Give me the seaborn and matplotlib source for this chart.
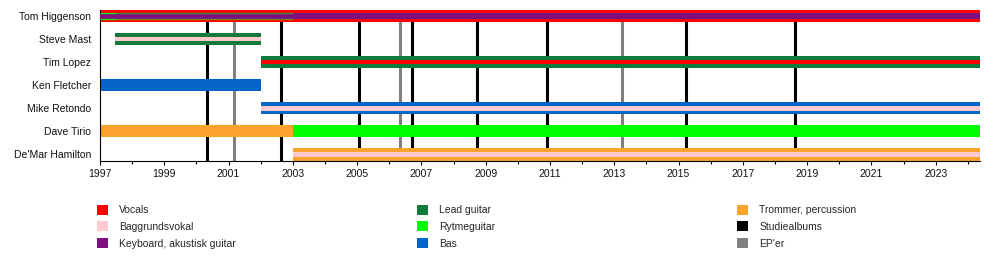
import matplotlib
matplotlib.use("Agg")
import matplotlib.pyplot as plt
from matplotlib.patches import Patch
import seaborn as sns

# ---------------- data ----------------
members = ["Tom Higgenson", "Steve Mast", "Tim Lopez", "Ken Fletcher",
           "Mike Retondo", "Dave Tirio", "De'Mar Hamilton"]

roles = ["Vocals", "Baggrundsvokal", "Keyboard, akustisk guitar",
         "Lead guitar", "Rytmeguitar", "Bas", "Trommer, percussion"]
role_colors = ["#ff0000", "#ffc9cf", "#7f0f80", "#127a3b", "#00ff00",
               "#0564c8", "#fba32c"]

studio_albums = [2000.33, 2002.62, 2005.05, 2006.70, 2008.72, 2010.92,
                 2015.24, 2018.62]
eps = [2001.17, 2006.33, 2013.25]

start_year = 1997
end_date = 2024.38

# main (full-height) bars
main_member = ["Tom Higgenson", "Steve Mast", "Tim Lopez", "Ken Fletcher",
               "Mike Retondo", "Dave Tirio", "Dave Tirio", "De'Mar Hamilton"]
main_role = ["Vocals", "Lead guitar", "Lead guitar", "Bas",
             "Bas", "Trommer, percussion", "Rytmeguitar", "Trommer, percussion"]
main_start = [1997.0, 1997.47, 2002.0, 1997.0, 2002.0, 1997.0, 2003.0, 2003.0]
main_end = [end_date, 2002.0, end_date, 2002.0, end_date, 2003.0, end_date, end_date]

# secondary (middle stripe) bars
stripe_member = ["Tom Higgenson", "Steve Mast", "Tim Lopez", "Mike Retondo",
                 "De'Mar Hamilton"]
stripe_role = ["Keyboard, akustisk guitar", "Baggrundsvokal", "Vocals",
               "Baggrundsvokal", "Baggrundsvokal"]
stripe_start = [1997.0, 1997.47, 2002.0, 2002.0, 2003.0]
stripe_end = [end_date, 2002.0, end_date, end_date, end_date]

# thin lines
thin_member = ["Tom Higgenson", "Tom Higgenson"]
thin_role = ["Rytmeguitar", "Rytmeguitar"]
thin_start = [1997.0, 1997.5]
thin_end = [1997.5, 2003.0]
thin_alpha = [0.9, 0.55]

# ---------------- plot ----------------
sns.set_theme(style="ticks")
plt.rcParams["font.family"] = ["Liberation Sans", "DejaVu Sans"]

color_of = dict(zip(roles, role_colors))
ypos = {m: i for i, m in enumerate(members)}

fig = plt.figure(figsize=(10, 2.6), dpi=100)
ax = fig.add_axes([0.100, 1 - 160.5 / 260, 0.880, (160.5 - 10) / 260])

for x in studio_albums:
    ax.axvline(x, color="black", lw=2.2, zorder=1)
for x in eps:
    ax.axvline(x, color="#808080", lw=2.2, zorder=1)

ax.barh([ypos[m] for m in main_member],
        [e - s for s, e in zip(main_start, main_end)],
        left=main_start, height=0.52,
        color=[color_of[r] for r in main_role], lw=0, zorder=2)

stripe_h = [0.23 if r == "Keyboard, akustisk guitar" else 0.19 for r in stripe_role]
ax.barh([ypos[m] for m in stripe_member],
        [e - s for s, e in zip(stripe_start, stripe_end)],
        left=stripe_start, height=stripe_h,
        color=[color_of[r] for r in stripe_role], lw=0, zorder=3)

for m, r, s, e, a in zip(thin_member, thin_role, thin_start, thin_end, thin_alpha):
    for off in (-0.12, 0.12):
        ax.hlines(ypos[m] + off, s, e, color=color_of[r], lw=1.0,
                  alpha=a, zorder=4)

ax.set_xlim(start_year, end_date)
ax.set_ylim(len(members) - 1 + 0.26, -0.26)
ax.set_yticks(range(len(members)))
ax.set_yticklabels(members)
ax.set_xticks(range(1997, 2024, 2))
ax.set_xticks(range(1997, 2025), minor=True)
ax.tick_params(axis="y", length=0, pad=6.5, labelsize=7.5, labelcolor="#111111")
ax.tick_params(axis="x", which="major", length=3, width=0.8, pad=3,
               labelsize=7.5, labelcolor="#111111", color="black")
ax.tick_params(axis="x", which="minor", length=2.2, width=0.8, color="black")
for side in ("top", "right"):
    ax.spines[side].set_visible(False)
for side in ("left", "bottom"):
    ax.spines[side].set_color("black")
    ax.spines[side].set_linewidth(0.8)
ax.grid(False)

legend_cols = [
    ["Vocals", "Baggrundsvokal", "Keyboard, akustisk guitar"],
    ["Lead guitar", "Rytmeguitar", "Bas"],
    ["Trommer, percussion", "Studiealbums", "EP'er"],
]
extra_colors = {"Studiealbums": "black", "EP'er": "#808080"}
col_x = [97, 417, 737]
for cx, labels in zip(col_x, legend_cols):
    handles = [Patch(facecolor=color_of.get(l, extra_colors.get(l)), edgecolor="none",
                     label=l) for l in labels]
    fig.legend(handles=handles, loc="upper left",
               bbox_to_anchor=(cx / 1000, 1 - 204.5 / 260),
               frameon=False, fontsize=7.5, handlelength=1.05, handleheight=1.1,
               handletextpad=1.1, labelspacing=0.6, borderpad=0, borderaxespad=0)

fig.savefig("out.png", dpi=100)
